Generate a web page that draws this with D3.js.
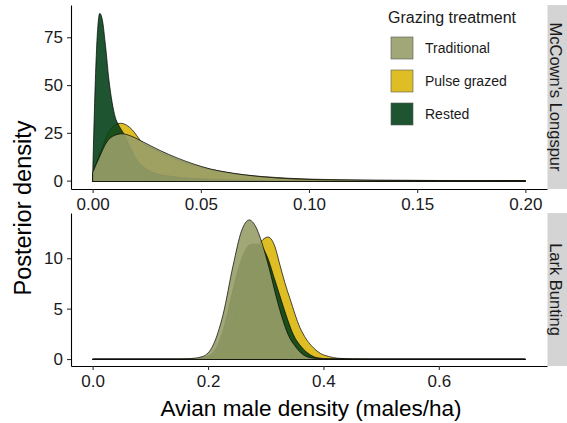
<!DOCTYPE html>
<html>
<head>
<meta charset="utf-8">
<script src="https://cdn.jsdelivr.net/npm/d3@7"></script>
<style>
  body { margin: 0; background: #fff; }
  svg { display: block; font-family: "Liberation Sans", Arial, sans-serif; }
</style>
</head>
<body>
<div id="my_dataviz"></div>
<script>
// treatments (legend order) and their fills
var treatments = ["Traditional", "Pulse grazed", "Rested"];
var fills = { "Traditional": "#989d69", "Pulse grazed": "#dab70c", "Rested": "#05431a" };

// McCown's Longspur posterior densities, [males/ha, density]
var mcTraditional = [[0, 4.2], [0.003, 12], [0.0067, 20.5], [0.010, 23.6], [0.0137, 24.5], [0.018, 23.2],
    [0.0236, 20.1], [0.0313, 15.7], [0.039, 11.9], [0.0467, 8.7], [0.0544, 6.1], [0.062, 4.4],
    [0.0697, 3.1], [0.0774, 2.1], [0.0928, 0.9], [0.11, 0.4], [0.13, 0.15], [0.16, 0.05], [0.2, 0]];
var mcPulse = [[0, 3], [0.001, 7], [0.004, 16], [0.0083, 27], [0.0129, 30], [0.0183, 26.6], [0.0221, 21],
    [0.03, 15.5], [0.04, 10.6], [0.05, 7.1], [0.06, 4.7], [0.07, 3], [0.08, 2], [0.1, 0.8],
    [0.13, 0.25], [0.16, 0.08], [0.2, 0.02]];
var mcRested = [[0, 2], [0.0008, 36], [0.0017, 66], [0.0025, 82], [0.0033, 87.5], [0.0045, 84],
    [0.006, 70], [0.0075, 53], [0.009, 41], [0.0105, 33], [0.0118, 29.5], [0.0144, 24.5],
    [0.0175, 17], [0.0206, 10.5], [0.025, 6], [0.03, 3.5], [0.036, 2.3], [0.045, 1.2], [0.055, 0.7],
    [0.07, 0.3], [0.09, 0.1], [0.12, 0.03], [0.2, 0]];

// Lark Bunting posterior densities
var lbTraditional = [[0, 0], [0.15, 0], [0.17, 0.05], [0.191, 0.26], [0.209, 1.4], [0.226, 4.4],
    [0.2435, 9.3], [0.258, 12.7], [0.2713, 13.8], [0.283, 13.1], [0.293, 11.6], [0.306, 9.0],
    [0.319, 6.0], [0.329, 4.0], [0.339, 2.4], [0.352, 1.2], [0.365, 0.43], [0.38, 0.1],
    [0.4, 0.02], [0.45, 0], [0.75, 0]];
var lbPulse = [[0, 0], [0.18, 0], [0.21, 0.3], [0.235, 2.0], [0.255, 5.5], [0.275, 9.5], [0.29, 11.5],
    [0.3043, 12.1], [0.315, 11.3], [0.3248, 9.3], [0.333, 7.6], [0.342, 6.0], [0.3595, 3.1],
    [0.37, 2.0], [0.383, 1.1], [0.395, 0.55], [0.409, 0.26], [0.425, 0.08], [0.45, 0.02],
    [0.48, 0], [0.75, 0]];
var lbRested = [[0, 0], [0.17, 0], [0.2, 0.3], [0.22, 1.8], [0.235, 4.8], [0.246, 7.5], [0.262, 10.5],
    [0.275, 11.4], [0.287, 11.4], [0.3015, 10.3], [0.315, 8.0], [0.3277, 5.7], [0.338, 3.9],
    [0.348, 2.4], [0.362, 1.2], [0.377, 0.43], [0.39, 0.12], [0.41, 0.02], [0.45, 0], [0.75, 0]];

// tick labels
var topXTicks = [0, 0.05, 0.1, 0.15, 0.2];
var topYTicks = [0, 25, 50, 75];
var botXTicks = [0, 0.2, 0.4, 0.6];
var botYTicks = [0, 5, 10];

var width = 567, height = 423;

var svg = d3.select("#my_dataviz")
    .append("svg")
    .attr("width", width)
    .attr("height", height);

// pad an extent by 5% on each side like ggplot does
function padded(ext) {
    var p = (ext[1] - ext[0]) * 0.05;
    return [ext[0] - p, ext[1] + p];
}

function drawPanel(box, series, xTicks, yTicks, xFmt, strip) {
    var all = [].concat(series[0].values, series[1].values, series[2].values);
    var x = d3.scaleLinear()
        .domain(padded(d3.extent(all, function (d) { return d[0]; })))
        .range([box.left, box.right]);
    var y = d3.scaleLinear()
        .domain(padded([0, d3.max(all, function (d) { return d[1]; })]))
        .range([box.bottom, box.top]);

    // snap the baseline to a pixel row so the shared bottom edge stays thin
    var base = Math.round(y(0)) + 0.5;
    var area = d3.area()
        .curve(d3.curveMonotoneX)
        .x(function (d) { return x(d[0]); })
        .y0(base)
        .y1(function (d) { return Math.min(y(d[1]), base); });

    // draw order: pulse, rested, traditional on top
    svg.append("g").selectAll("path")
        .data(series)
        .enter()
        .append("path")
        .attr("d", function (d) { return area(d.values); })
        .style("fill", function (d) { return fills[d.name]; })
        .style("fill-opacity", 0.9)
        .style("stroke", "black")
        .style("stroke-width", 0.7)
        .style("stroke-linejoin", "round");

    // axes
    var gx = svg.append("g")
        .attr("transform", "translate(0," + box.bottom + ")")
        .call(d3.axisBottom(x).tickValues(xTicks).tickFormat(d3.format(xFmt))
            .tickSize(4).tickSizeOuter(0).tickPadding(4.5));
    var gy = svg.append("g")
        .attr("transform", "translate(" + box.left + ",0)")
        .call(d3.axisLeft(y).tickValues(yTicks).tickFormat(d3.format("d"))
            .tickSize(4).tickSizeOuter(0).tickPadding(4));
    [gx, gy].forEach(function (g) {
        g.attr("font-size", 17).attr("font-family", null);
        g.select(".domain").style("stroke", "black").style("stroke-width", 1.1);
        g.selectAll(".tick line").style("stroke", "#333").style("stroke-width", 1.1);
        g.selectAll(".tick text").style("fill", "#1a1a1a");
    });

    // facet strip
    svg.append("rect")
        .attr("x", box.right + 0.5)
        .attr("y", box.top)
        .attr("width", 25)
        .attr("height", box.bottom - box.top)
        .style("fill", "#d4d4d4");
    svg.append("text")
        .attr("transform", "translate(" + (box.right + 3) + "," + (box.top + box.bottom) / 2 + ") rotate(90)")
        .attr("text-anchor", "middle")
        .style("font-size", "16.5px")
        .style("fill", "#1a1a1a")
        .text(strip);
}

drawPanel({ left: 71, right: 547, top: 5, bottom: 189 },
    [{ name: "Pulse grazed", values: mcPulse },
     { name: "Rested", values: mcRested },
     { name: "Traditional", values: mcTraditional }],
    topXTicks, topYTicks, ".2f", "McCown's Longspur");

drawPanel({ left: 71, right: 547, top: 213, bottom: 366 },
    [{ name: "Pulse grazed", values: lbPulse },
     { name: "Rested", values: lbRested },
     { name: "Traditional", values: lbTraditional }],
    botXTicks, botYTicks, ".1f", "Lark Bunting");

// axis titles
svg.append("text")
    .attr("x", 311)
    .attr("y", 416)
    .attr("text-anchor", "middle")
    .style("font-size", "22.5px")
    .style("fill", "black")
    .text("Avian male density (males/ha)");

svg.append("text")
    .attr("transform", "translate(31,208) rotate(-90)")
    .attr("text-anchor", "middle")
    .style("font-size", "23.5px")
    .style("fill", "black")
    .text("Posterior density");

// legend
var legend = svg.append("g").attr("transform", "translate(388,0)");
legend.append("text")
    .attr("x", 0)
    .attr("y", 23)
    .style("font-size", "16px")
    .style("fill", "#1a1a1a")
    .text("Grazing treatment");

var size = 22;
legend.selectAll("rect")
    .data(treatments)
    .enter()
    .append("rect")
    .attr("x", 3)
    .attr("y", function (d, i) { return 37 + i * 33; })
    .attr("width", size)
    .attr("height", size)
    .style("fill", function (d) { return fills[d]; })
    .style("fill-opacity", 0.9)
    .style("stroke", "#555")
    .style("stroke-width", 0.6);

legend.selectAll("text.lab")
    .data(treatments)
    .enter()
    .append("text")
    .attr("class", "lab")
    .attr("x", 37)
    .attr("y", function (d, i) { return 37 + i * 33 + size / 2 + 5; })
    .style("font-size", "14px")
    .style("fill", "#1a1a1a")
    .text(function (d) { return d; });
</script>
</body>
</html>
